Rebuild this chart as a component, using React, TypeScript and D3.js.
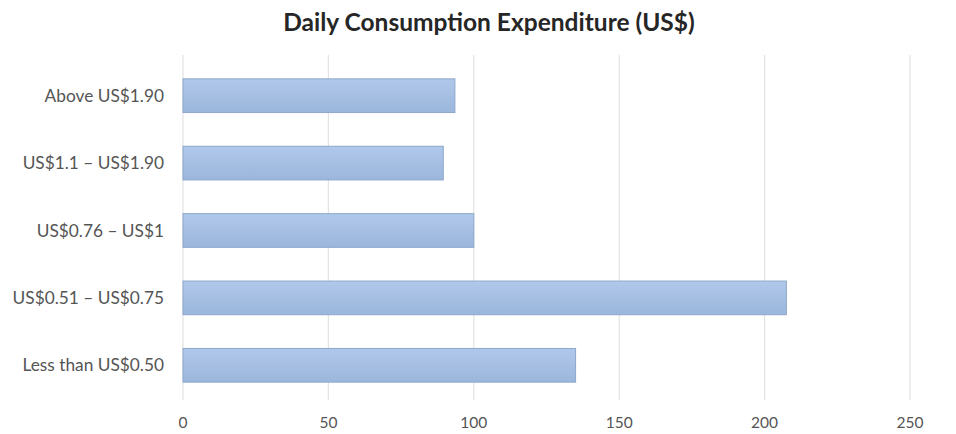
import React from "react";
import * as d3 from "d3";

const categories = ["Above US$1.90", "US$1.1 – US$1.90", "US$0.76 – US$1", "US$0.51 – US$0.75", "Less than US$0.50"];
const values = [93.5, 89.5, 100, 207.5, 135];
const xTicks = [0, 50, 100, 150, 200, 250];
const title = "Daily Consumption Expenditure (US$)";

export default function App() {
  const W = 956, H = 434;
  const x = d3.scaleLinear().domain([0, 250]).range([183, 910]);
  const y = d3.scaleBand<string>().domain(categories).range([62, 399]).paddingInner(0.5).paddingOuter(0.25);
  const font = "Lato, 'Open Sans', 'Liberation Sans', sans-serif";
  return (
    <svg width={W} height={H} style={{ position: "absolute", left: 0, top: 0, background: "#fff" }}>
      <defs>
        <linearGradient id="barGrad" x1="0" y1="0" x2="0" y2="1">
          <stop offset="0" stopColor="#b0c8ea" />
          <stop offset="1" stopColor="#9bb6dc" />
        </linearGradient>
      </defs>
      <text x={489} y={31} textAnchor="middle" fontFamily={font} fontWeight="bold" fontSize={24.5} fill="#262626">{title}</text>
      {xTicks.map(t => (
        <g key={t}>
          <line x1={x(t)} x2={x(t)} y1={55} y2={400} stroke="#e3e3e3" strokeWidth={1.2} />
          <text x={x(t)} y={428} textAnchor="middle" fontFamily={font} fontSize={15.5} fill="#555">{t}</text>
        </g>
      ))}
      {categories.map((c, i) => (
        <g key={c}>
          <rect x={x(0)} y={y(c)!} width={x(values[i]) - x(0)} height={y.bandwidth()} fill="url(#barGrad)" stroke="#8ea7cb" strokeWidth={1} />
          <text x={164} y={y(c)! + y.bandwidth() / 2} dy="0.35em" textAnchor="end" fontFamily={font} fontSize={17.3} fill="#555">{c}</text>
        </g>
      ))}
    </svg>
  );
}
